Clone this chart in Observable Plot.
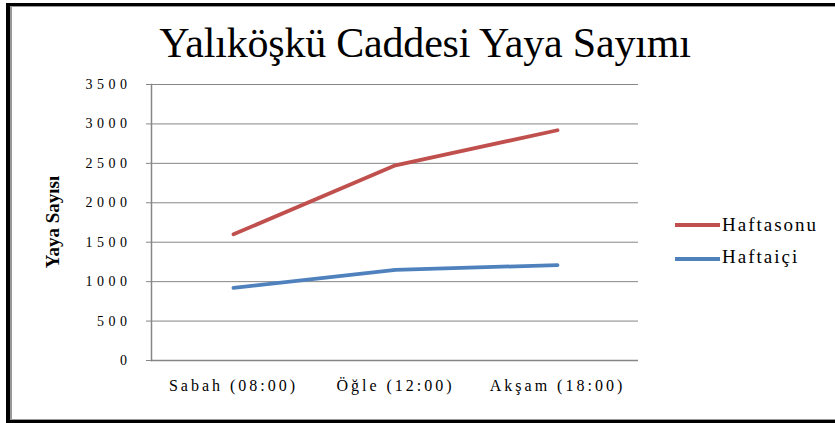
<!DOCTYPE html>
<html>
<head>
<meta charset="utf-8">
<script src="https://cdn.jsdelivr.net/npm/d3@7"></script>
<script src="https://cdn.jsdelivr.net/npm/@observablehq/plot@0.6"></script>
<style>
  html, body { margin: 0; padding: 0; background: #fff; }
  body { width: 835px; height: 423px; position: relative; overflow: hidden; font-family: "Liberation Serif", serif; }
  #frame { position: absolute; left: 6px; top: 3px; width: 840px; height: 414px;
    border-left: 4px solid #000; border-top: 3px solid #000; border-bottom: 3px solid #000;
    box-shadow: inset 2px 1px 0 #999, inset 0 -1px 0 #999; pointer-events: none; }
  #chart { position: absolute; left: 0; top: 0; }
  #chart svg, #chart svg text { font-family: "Liberation Serif", "Times New Roman", serif !important; }
  .ov { position: absolute; white-space: nowrap; font-family: "Liberation Serif", "Times New Roman", serif; color: #000; }
  #title { left: 0; width: 850px; text-align: center; top: 19px; font-size: 42px; letter-spacing: -0.2px; }
  #ylab { left: 53px; top: 222px; font-size: 19px; font-weight: bold; transform: translate(-50%, -50%) rotate(-90deg); }
  .leg { font-size: 19px; letter-spacing: 2px; }
  .sw { position: absolute; width: 45px; height: 4px; }
  g[aria-label="y-axis tick label"] text { letter-spacing: 4.5px; }
  g[aria-label="x-axis tick label"] text { letter-spacing: 3px; }
</style>
</head>
<body>
<div id="chart"></div>
<div id="frame"></div>
<div class="ov" id="title">Yalıköşkü Caddesi Yaya Sayımı</div>
<div class="ov" id="ylab">Yaya Sayısı</div>
<div class="sw" style="left:675px;top:223px;background:#C0504D"></div>
<div class="ov leg" style="left:722px;top:214px">Haftasonu</div>
<div class="sw" style="left:675px;top:257px;background:#4F81BD"></div>
<div class="ov leg" style="left:722px;top:246px">Haftaiçi</div>
<script>
const categories = ["Sabah (08:00)", "Öğle (12:00)", "Akşam (18:00)"];
const haftasonu = [1600, 2475, 2920];
const haftaici = [920, 1150, 1210];
const yTicks = [0, 500, 1000, 1500, 2000, 2500, 3000, 3500];
const seriesNames = ["Haftasonu", "Haftaiçi"];
const colors = ["#C0504D", "#4F81BD"];

const data = [];
categories.forEach((c, i) => {
  data.push({cat: c, value: haftasonu[i], series: seriesNames[0]});
  data.push({cat: c, value: haftaici[i], series: seriesNames[1]});
});

const plot = Plot.plot({
  width: 835,
  height: 423,
  marginLeft: 151,
  marginRight: 197,
  marginTop: 84,
  marginBottom: 63,
  style: {fontFamily: "Liberation Serif, serif", color: "#000", background: "transparent"},
  x: {type: "point", domain: categories, padding: 0.5, label: null},
  y: {domain: [0, 3500], ticks: yTicks, label: null},
  color: {domain: seriesNames, range: colors},
  marks: [
    Plot.gridY(yTicks, {stroke: "#868686", strokeOpacity: 1, strokeWidth: 1}),
    Plot.frame({anchor: "left", stroke: "#868686", strokeWidth: 1.5}),
    Plot.ruleY([0], {stroke: "#868686", strokeWidth: 1.5}),
    Plot.axisY(yTicks, {tickSize: 5, tickPadding: 15, stroke: "#868686", fontSize: 14, tickFormat: d => String(d), label: null}),
    Plot.axisX({tickSize: 0, tickPadding: 19, fontSize: 16, label: null}),
    Plot.line(data, {x: "cat", y: "value", z: "series", stroke: "series", strokeWidth: 3.8, curve: "linear"})
  ]
});
document.getElementById("chart").appendChild(plot);
</script>
</body>
</html>
